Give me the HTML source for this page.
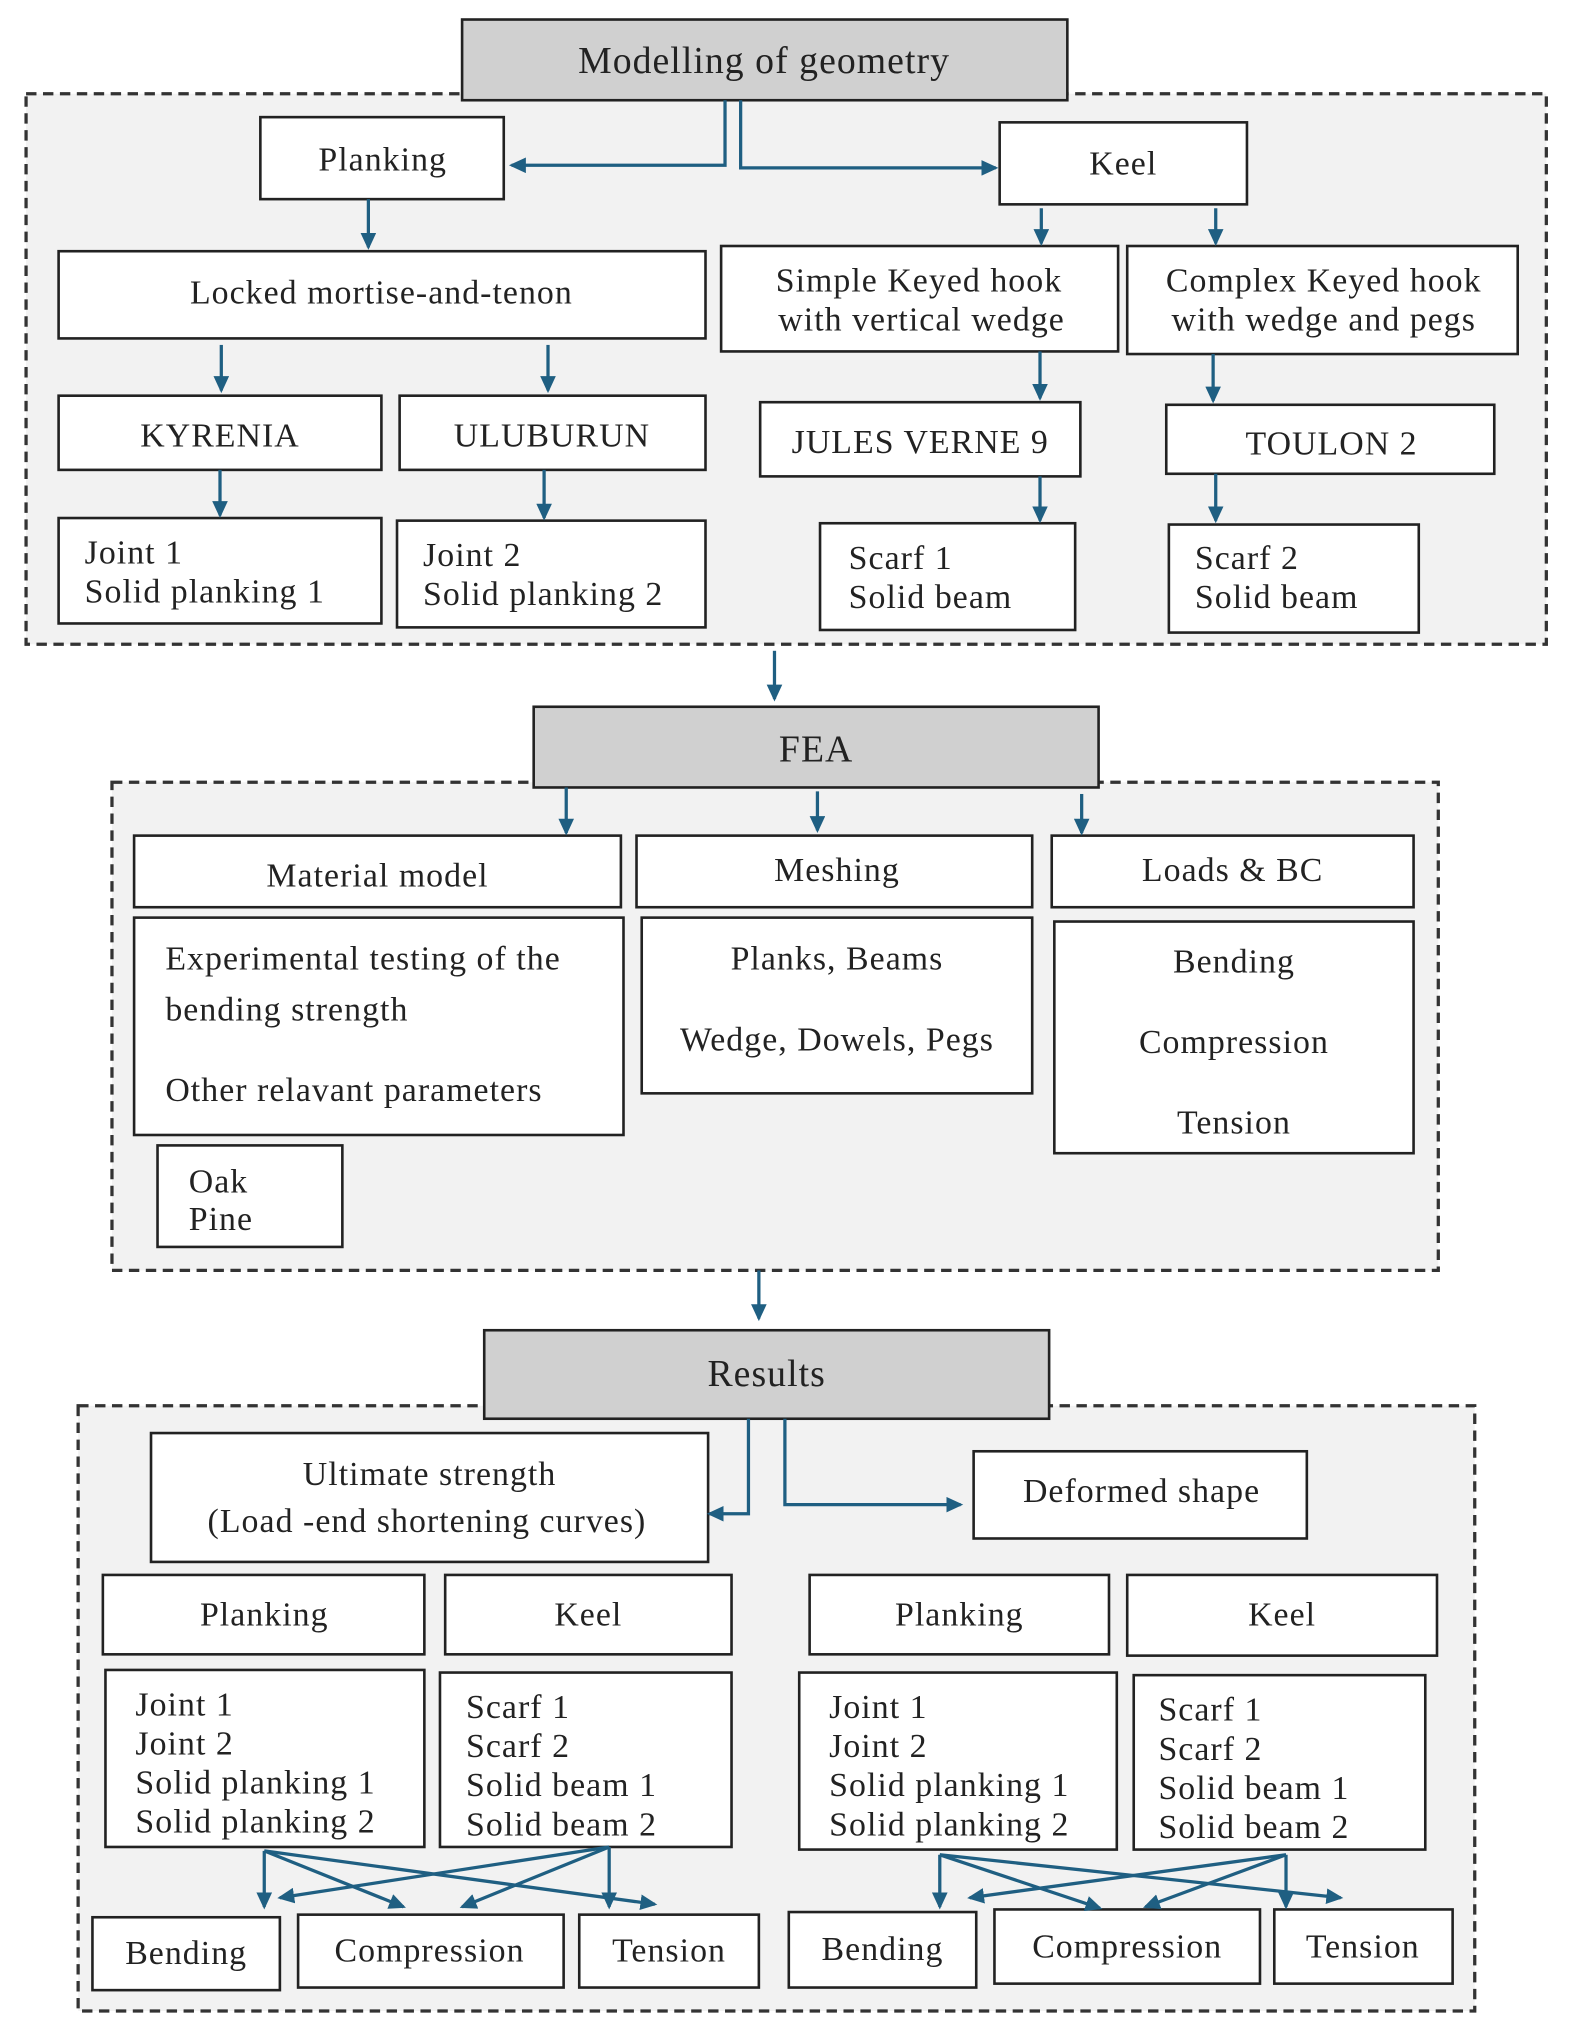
<!DOCTYPE html>
<html><head><style>html,body{margin:0;padding:0;background:#fff}svg{display:block}</style></head>
<body>
<svg width="1575" height="2037" viewBox="0 0 1210 1565" xmlns="http://www.w3.org/2000/svg" font-family="Liberation Serif, serif" font-size="26" letter-spacing="0.8" fill="#222">
<defs>
<marker id="a" markerWidth="14" markerHeight="12" refX="11" refY="6" orient="auto" markerUnits="userSpaceOnUse"><path d="M0,0 L13,6 L0,12 z" fill="#1f5f82"/></marker>
</defs>
<g stroke="#333" stroke-width="2.5" stroke-dasharray="8,5" fill="#f2f2f2">
<rect x="20" y="72" width="1168" height="423"/>
<rect x="86" y="601" width="1019" height="375"/>
<rect x="60" y="1080" width="1073" height="465"/>
</g>
<g stroke="#222" stroke-width="2" fill="#fff">
<rect x="355" y="15" width="465" height="62" fill="#d0d0d0"/>
<rect x="200" y="90" width="187" height="63"/>
<rect x="768" y="94" width="190" height="63"/>
<rect x="45" y="193" width="497" height="67"/>
<rect x="554" y="189" width="305" height="81"/>
<rect x="866" y="189" width="300" height="83"/>
<rect x="45" y="304" width="248" height="57"/>
<rect x="307" y="304" width="235" height="57"/>
<rect x="584" y="309" width="246" height="57"/>
<rect x="896" y="311" width="252" height="53"/>
<rect x="45" y="398" width="248" height="81"/>
<rect x="305" y="400" width="237" height="82"/>
<rect x="630" y="402" width="196" height="82"/>
<rect x="898" y="403" width="192" height="83"/>
<rect x="410" y="543" width="434" height="62" fill="#d0d0d0"/>
<rect x="103" y="642" width="374" height="55"/>
<rect x="489" y="642" width="304" height="55"/>
<rect x="808" y="642" width="278" height="55"/>
<rect x="103" y="705" width="376" height="167"/>
<rect x="493" y="705" width="300" height="135"/>
<rect x="810" y="708" width="276" height="178"/>
<rect x="121" y="880" width="142" height="78"/>
<rect x="372" y="1022" width="434" height="68" fill="#d0d0d0"/>
<rect x="116" y="1101" width="428" height="99"/>
<rect x="748" y="1115" width="256" height="67"/>
<rect x="79" y="1210" width="247" height="61"/>
<rect x="342" y="1210" width="220" height="61"/>
<rect x="622" y="1210" width="230" height="61"/>
<rect x="866" y="1210" width="238" height="62"/>
<rect x="81" y="1283" width="245" height="136"/>
<rect x="338" y="1285" width="224" height="134"/>
<rect x="614" y="1285" width="244" height="136"/>
<rect x="871" y="1287" width="224" height="134"/>
<rect x="71" y="1473" width="144" height="56"/>
<rect x="229" y="1471" width="204" height="56"/>
<rect x="445" y="1471" width="138" height="56"/>
<rect x="606" y="1469" width="144" height="58"/>
<rect x="764" y="1467" width="204" height="57"/>
<rect x="979" y="1467" width="137" height="57"/>
</g>
<g stroke="#1f5f82" stroke-width="2.5" fill="none" marker-end="url(#a)">
<polyline points="557,77 557,127 393,127"/>
<polyline points="569,77 569,129 765,129"/>
<line x1="283" y1="153" x2="283" y2="190"/>
<line x1="800" y1="160" x2="800" y2="187"/>
<line x1="934" y1="160" x2="934" y2="187"/>
<line x1="170" y1="265" x2="170" y2="300"/>
<line x1="421" y1="265" x2="421" y2="300"/>
<line x1="799" y1="270" x2="799" y2="306"/>
<line x1="932" y1="272" x2="932" y2="308"/>
<line x1="169" y1="361" x2="169" y2="396"/>
<line x1="418" y1="361" x2="418" y2="398"/>
<line x1="799" y1="366" x2="799" y2="400"/>
<line x1="934" y1="364" x2="934" y2="400"/>
<line x1="595" y1="500" x2="595" y2="537"/>
<line x1="435" y1="605" x2="435" y2="640"/>
<line x1="628" y1="608" x2="628" y2="638"/>
<line x1="831" y1="610" x2="831" y2="640"/>
<line x1="583" y1="976" x2="583" y2="1013"/>
<polyline points="575,1090 575,1163 545,1163"/>
<polyline points="603,1090 603,1156 738,1156"/>
<line x1="203" y1="1422" x2="203" y2="1465"/>
<line x1="203" y1="1422" x2="310" y2="1465"/>
<line x1="203" y1="1422" x2="503" y2="1463"/>
<line x1="468" y1="1419" x2="215" y2="1458"/>
<line x1="468" y1="1419" x2="355" y2="1465"/>
<line x1="468" y1="1419" x2="468" y2="1465"/>
<line x1="722" y1="1425" x2="722" y2="1465"/>
<line x1="722" y1="1425" x2="845" y2="1466"/>
<line x1="722" y1="1425" x2="1030" y2="1458"/>
<line x1="988" y1="1425" x2="745" y2="1458"/>
<line x1="988" y1="1425" x2="880" y2="1465"/>
<line x1="988" y1="1425" x2="988" y2="1465"/>
</g>
<g text-anchor="middle">
<text x="587" y="56" font-size="29">Modelling of geometry</text>
<text x="294" y="131">Planking</text>
<text x="863" y="134">Keel</text>
<text x="293" y="233">Locked mortise-and-tenon</text>
<text x="706" y="224">Simple Keyed hook</text>
<text x="708" y="254">with vertical wedge</text>
<text x="1017" y="224">Complex Keyed hook</text>
<text x="1017" y="254">with wedge and pegs</text>
<text x="169" y="343">KYRENIA</text>
<text x="424" y="343">ULUBURUN</text>
<text x="707" y="348">JULES VERNE 9</text>
<text x="1023" y="349">TOULON 2</text>
<text x="627" y="585" font-size="29">FEA</text>
<text x="290" y="681">Material model</text>
<text x="643" y="677">Meshing</text>
<text x="947" y="677">Loads &amp; BC</text>
<text x="643" y="745">Planks, Beams</text>
<text x="643" y="807">Wedge, Dowels, Pegs</text>
<text x="948" y="747">Bending</text>
<text x="948" y="809">Compression</text>
<text x="948" y="871">Tension</text>
<text x="589" y="1065" font-size="29">Results</text>
<text x="330" y="1141">Ultimate strength</text>
<text x="328" y="1177">(Load -end shortening curves)</text>
<text x="877" y="1154">Deformed shape</text>
<text x="203" y="1249">Planking</text>
<text x="452" y="1249">Keel</text>
<text x="737" y="1249">Planking</text>
<text x="985" y="1249">Keel</text>
<text x="143" y="1509">Bending</text>
<text x="330" y="1507">Compression</text>
<text x="514" y="1507">Tension</text>
<text x="678" y="1506">Bending</text>
<text x="866" y="1504">Compression</text>
<text x="1047" y="1504">Tension</text>
</g>
<g>
<text x="65" y="433">Joint 1</text><text x="65" y="463">Solid planking 1</text>
<text x="325" y="435">Joint 2</text><text x="325" y="465">Solid planking 2</text>
<text x="652" y="437">Scarf 1</text><text x="652" y="467">Solid beam</text>
<text x="918" y="437">Scarf 2</text><text x="918" y="467">Solid beam</text>
<text x="127" y="745">Experimental testing of the</text>
<text x="127" y="784">bending strength</text>
<text x="127" y="846">Other relavant parameters</text>
<text x="145" y="916">Oak</text><text x="145" y="945">Pine</text>
<text x="104" y="1318">Joint 1</text><text x="104" y="1348">Joint 2</text><text x="104" y="1378">Solid planking 1</text><text x="104" y="1408">Solid planking 2</text>
<text x="358" y="1320">Scarf 1</text><text x="358" y="1350">Scarf 2</text><text x="358" y="1380">Solid beam 1</text><text x="358" y="1410">Solid beam 2</text>
<text x="637" y="1320">Joint 1</text><text x="637" y="1350">Joint 2</text><text x="637" y="1380">Solid planking 1</text><text x="637" y="1410">Solid planking 2</text>
<text x="890" y="1322">Scarf 1</text><text x="890" y="1352">Scarf 2</text><text x="890" y="1382">Solid beam 1</text><text x="890" y="1412">Solid beam 2</text>
</g>
</svg>
</body></html>
